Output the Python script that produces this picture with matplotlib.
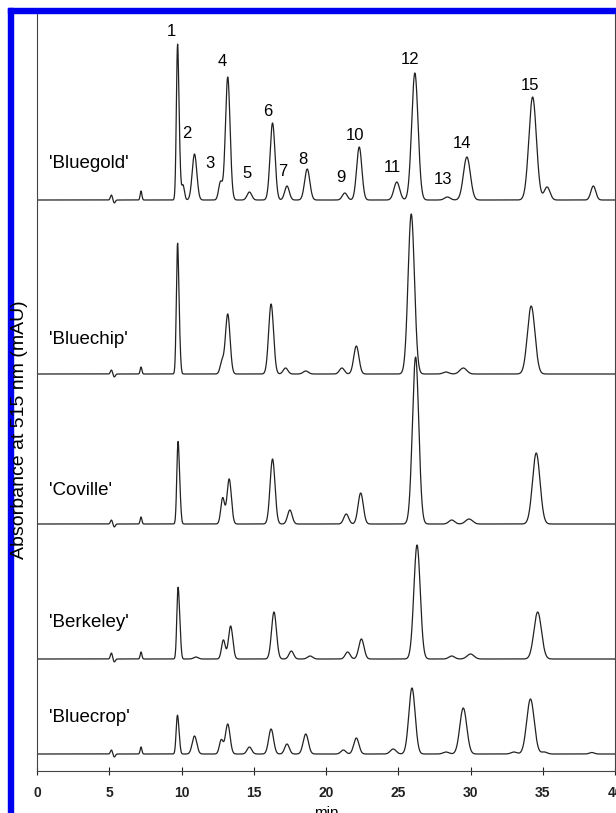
import numpy as np
import matplotlib.pyplot as plt
from matplotlib.patches import Rectangle

plt.rcParams['font.family'] = ['Liberation Sans', 'DejaVu Sans']

# cultivar traces: peak retention times (min), peak heights (mAU), peak widths (sigma, min)
cultivars = ["'Bluegold'", "'Bluechip'", "'Coville'", "'Berkeley'", "'Bluecrop'"]
offsets = [571, 397, 247, 112, 17]

bluegold_t = [5.15, 5.35, 7.2, 9.72, 9.85, 10.1, 10.9, 12.7, 13.2, 14.7, 16.3, 17.3, 18.7,
              21.3, 22.3, 24.9, 26.15, 28.4, 29.75, 34.3, 35.3, 38.5]
bluegold_h = [5, -3, 9, 144, 40, 15, 46, 18, 123, 8, 77, 14, 31,
              7, 53, 18, 127, 3, 43, 103, 13, 14]
bluegold_w = [0.07, 0.07, 0.06, 0.08, 0.08, 0.1, 0.16, 0.13, 0.16, 0.16, 0.17, 0.16, 0.18,
              0.17, 0.18, 0.2, 0.22, 0.2, 0.24, 0.26, 0.2, 0.17]

bluechip_t = [5.15, 5.35, 7.2, 9.72, 9.85, 12.8, 13.2, 16.2, 17.2, 18.6, 21.1, 22.1, 25.9,
              28.3, 29.5, 34.2]
bluechip_h = [4, -3, 7, 122, 30, 12, 60, 70, 6, 3, 6, 28, 160, 2, 6, 68]
bluechip_w = [0.07, 0.07, 0.06, 0.08, 0.08, 0.13, 0.16, 0.17, 0.16, 0.18, 0.17, 0.18, 0.22,
              0.2, 0.24, 0.26]

coville_t = [5.15, 5.35, 7.2, 9.75, 9.88, 12.85, 13.3, 16.3, 17.5, 21.4, 22.4, 26.2,
             28.7, 29.9, 34.55]
coville_h = [4, -3, 7, 75, 25, 26, 45, 65, 14, 10, 31, 167, 4, 5, 71]
coville_w = [0.07, 0.07, 0.06, 0.08, 0.08, 0.13, 0.15, 0.17, 0.16, 0.17, 0.18, 0.22,
             0.2, 0.24, 0.26]

berkeley_t = [5.15, 5.35, 7.2, 9.75, 9.88, 11.0, 12.9, 13.4, 16.4, 17.6, 18.9, 21.5, 22.45,
              26.3, 28.7, 30.0, 34.65]
berkeley_h = [6, -3, 7, 64, 25, 2, 19, 33, 47, 8, 3, 7, 20, 114, 3, 5, 47]
berkeley_w = [0.07, 0.07, 0.06, 0.08, 0.08, 0.16, 0.13, 0.15, 0.17, 0.16, 0.18, 0.17, 0.18,
              0.22, 0.2, 0.24, 0.26]

bluecrop_t = [5.15, 5.35, 7.2, 9.7, 9.82, 10.9, 12.75, 13.2, 14.7, 16.2, 17.3, 18.6, 21.2,
              22.1, 24.65, 25.95, 28.3, 29.5, 33.0, 34.15, 35.1, 38.4]
bluecrop_h = [4, -3, 7, 33, 15, 18, 14, 30, 7, 25, 10, 20, 4,
              16, 5, 66, 2, 46, 2, 55, 2, 1.5]
bluecrop_w = [0.07, 0.07, 0.06, 0.08, 0.08, 0.16, 0.13, 0.16, 0.16, 0.17, 0.16, 0.18, 0.17,
              0.18, 0.2, 0.22, 0.2, 0.24, 0.2, 0.26, 0.2, 0.17]

peaks = [
    (bluegold_t, bluegold_h, bluegold_w),
    (bluechip_t, bluechip_h, bluechip_w),
    (coville_t, coville_h, coville_w),
    (berkeley_t, berkeley_h, berkeley_w),
    (bluecrop_t, bluecrop_h, bluecrop_w),
]

# numbered peak labels above the Bluegold trace
peak_ids = [str(i) for i in range(1, 16)]
peak_label_x = [9.3, 10.4, 12.0, 12.8, 14.5, 16.0, 17.0, 18.4, 21.0, 22.0, 24.6, 25.8, 28.1, 29.4, 34.1]
peak_label_y = [739, 638, 608, 709, 598, 659, 600, 612, 593, 635, 604, 711, 591, 627, 686]

name_y = [608, 431, 281, 149, 54]
xticks = [0, 5, 10, 15, 20, 25, 30, 35, 40]

fig = plt.figure(figsize=(6.16, 8.13), dpi=100)
ax = fig.add_axes([37 / 616, 42 / 813, 578 / 616, 758 / 813])

t = np.linspace(0, 40, 4001)
for (pt, ph, pw), off, name, ny in zip(peaks, offsets, cultivars, name_y):
    y = np.zeros_like(t)
    for c, h, w in zip(pt, ph, pw):
        y += h * np.exp(-0.5 * ((t - c) / w) ** 2)
    ax.plot(t, y + off, color='#222222', lw=0.9)
    ax.text(0.83, ny, name, fontsize=13.5, ha='left', va='center')

for lab, lx, ly in zip(peak_ids, peak_label_x, peak_label_y):
    ax.text(lx, ly, lab, fontsize=12, ha='center', va='center')

ax.set_xlim(0, 40)
ax.set_ylim(0, 758)
ax.set_xticks(xticks)
ax.set_xticklabels([str(v) for v in xticks], fontweight='bold', fontsize=10)
ax.tick_params(axis='x', direction='inout', length=6, width=0.8, pad=8, colors='#222222')
ax.set_yticks([])
ax.spines['top'].set_visible(False)
for s in ['left', 'right', 'bottom']:
    ax.spines[s].set_color('#444444')
    ax.spines[s].set_linewidth(0.8)
ax.set_xlabel('min', fontsize=11, labelpad=4)
fig.text(20 / 616, 1 - 430 / 813, 'Absorbance at 515 nm (mAU)', rotation=90,
         fontsize=14, ha='center', va='center')

# blue frame on the left and top edges
fig.patches.append(Rectangle((8 / 616, 0), 5 / 616, 805 / 813, transform=fig.transFigure,
                             color='#0000F0', zorder=0))
fig.patches.append(Rectangle((8 / 616, 800 / 813), 608 / 616, 5 / 813, transform=fig.transFigure,
                             color='#0000F0', zorder=0))

fig.savefig('out.png', dpi=100)
